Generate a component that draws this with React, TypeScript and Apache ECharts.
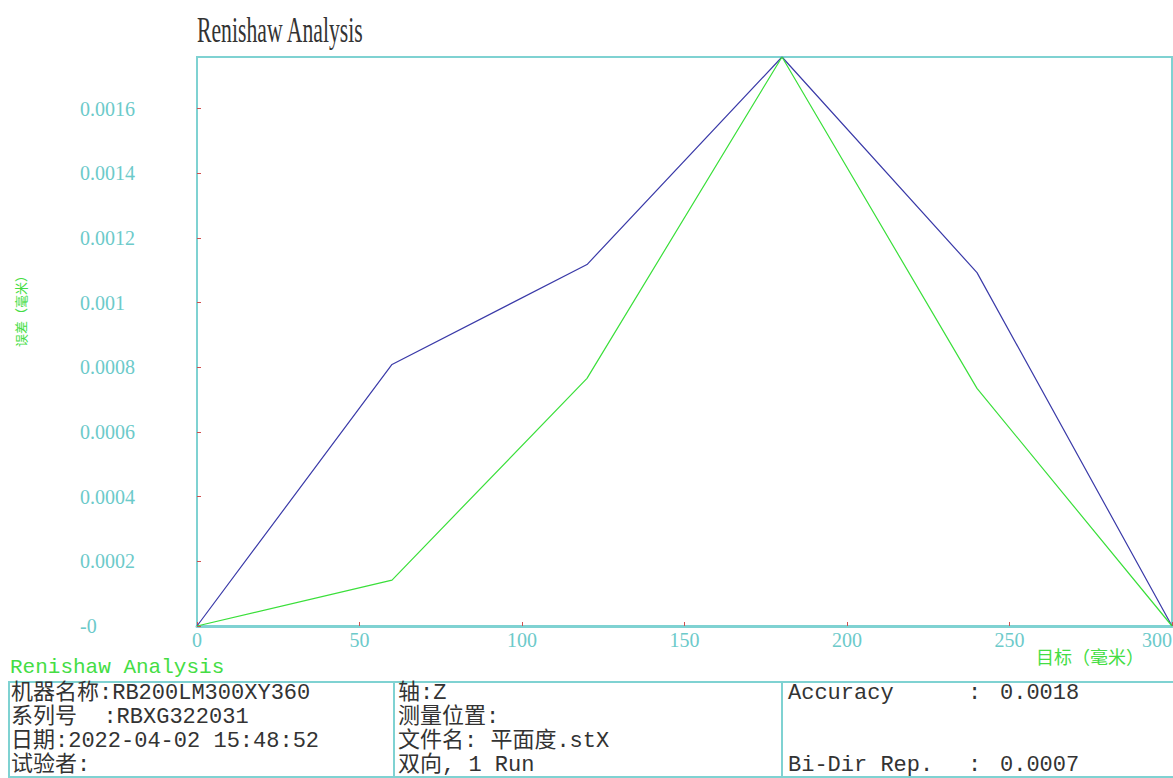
import React, { useEffect, useRef } from "react";
import * as echarts from "echarts";

const targets = [0, 60, 120, 180, 240, 300];
const runForward = [0, 0.000809, 0.001118, 0.00176, 0.001093, 0];
const runReverse = [0, 0.000142, 0.000766, 0.00176, 0.000735, 0];
const xTicks = [0, 50, 100, 150, 200, 250, 300];
const yTicks = [0, 0.0002, 0.0004, 0.0006, 0.0008, 0.001, 0.0012, 0.0014, 0.0016];

const infoCol1 = ["机器名称:RB200LM300XY360", "系列号  :RBXG322031", "日期:2022-04-02 15:48:52", "试验者:"];
const infoCol2 = ["轴:Z", "测量位置:", "文件名: 平面度.stX", "双向, 1 Run"];
const statLabels = ["Accuracy", "Bi-Dir Rep."];
const statValues = ["0.0018", "0.0007"];

const TEAL = "#7fd2d2";
const LABEL = "#6ccaca";
const MONO = "'Liberation Mono', 'Noto Sans CJK SC', monospace";

export default function App() {
  const ref = useRef<HTMLDivElement>(null);
  useEffect(() => {
    if (!ref.current) return;
    const chart = echarts.init(ref.current, null, { renderer: "svg" });
    const rowY = [693, 717, 741, 765];
    const graphics: any[] = [
      {
        type: "text",
        x: 197,
        y: 12,
        scaleX: 0.62,
        style: { text: "Renishaw Analysis", fontSize: 35, fontFamily: "'Liberation Serif', serif", fill: "#333" },
      },
      {
        type: "text",
        x: 1036,
        y: 656,
        style: { text: "目标（毫米）", fontSize: 18, fontFamily: "'Noto Sans CJK SC'", fill: "#44dd44", verticalAlign: "middle" },
      },
      {
        type: "text",
        x: 20,
        y: 308,
        rotation: Math.PI / 2,
        style: { text: "误差（毫米）", fontSize: 13, fontFamily: "'Noto Sans CJK SC'", fill: "#44dd44", align: "center", verticalAlign: "middle" },
      },
      {
        type: "text",
        x: 10,
        y: 667,
        style: { text: "Renishaw Analysis", fontSize: 21, fontFamily: MONO, fill: "#44dd44", verticalAlign: "middle" },
      },
      { type: "line", shape: { x1: 8, y1: 682, x2: 1173, y2: 682 }, style: { stroke: TEAL, lineWidth: 2 } },
      { type: "line", shape: { x1: 8, y1: 777, x2: 1173, y2: 777 }, style: { stroke: TEAL, lineWidth: 2 } },
      { type: "line", shape: { x1: 9, y1: 682, x2: 9, y2: 777 }, style: { stroke: TEAL, lineWidth: 2 } },
      { type: "line", shape: { x1: 394, y1: 682, x2: 394, y2: 777 }, style: { stroke: TEAL, lineWidth: 2 } },
      { type: "line", shape: { x1: 782, y1: 682, x2: 782, y2: 777 }, style: { stroke: TEAL, lineWidth: 2 } },
    ];
    infoCol1.forEach((t, i) =>
      graphics.push({ type: "text", x: 11, y: rowY[i], style: { text: t, fontSize: 22, fontFamily: MONO, fill: "#333", verticalAlign: "middle" } })
    );
    infoCol2.forEach((t, i) =>
      graphics.push({ type: "text", x: 398, y: rowY[i], style: { text: t, fontSize: 22, fontFamily: MONO, fill: "#333", verticalAlign: "middle" } })
    );
    statLabels.forEach((t, i) => {
      const y = i === 0 ? rowY[0] : rowY[3];
      graphics.push({ type: "text", x: 788, y, style: { text: t, fontSize: 22, fontFamily: MONO, fill: "#333", verticalAlign: "middle" } });
      graphics.push({ type: "text", x: 968, y, style: { text: ":", fontSize: 22, fontFamily: MONO, fill: "#333", verticalAlign: "middle" } });
      graphics.push({ type: "text", x: 1000, y, style: { text: statValues[i], fontSize: 22, fontFamily: MONO, fill: "#333", verticalAlign: "middle" } });
    });

    chart.setOption({
      animation: false,
      backgroundColor: "#fff",
      grid: {
        left: 197,
        top: 57,
        width: 975,
        height: 569,
        show: true,
        borderColor: TEAL,
        borderWidth: 2,
        containLabel: false,
        outerBoundsMode: "none",
      },
      xAxis: {
        type: "value",
        min: 0,
        max: 300,
        interval: 50,
        axisLine: { show: true, lineStyle: { color: TEAL, width: 3 } },
        axisTick: { show: true, inside: true, length: 4, lineStyle: { color: "#d05050" } },
        splitLine: { show: false },
        axisLabel: {
          color: LABEL,
          fontSize: 20,
          fontFamily: "'Liberation Serif', serif",
          margin: 4,
          alignMaxLabel: "right",
          formatter: (v: number) => (xTicks.includes(v) ? String(v) : ""),
        },
      },
      yAxis: {
        type: "value",
        min: 0,
        max: 0.00176,
        interval: 0.0002,
        axisLine: { show: true, lineStyle: { color: TEAL, width: 2 } },
        axisTick: { show: true, inside: true, length: 4, lineStyle: { color: "#d05050" } },
        splitLine: { show: false },
        axisLabel: {
          color: LABEL,
          fontSize: 20,
          fontFamily: "'Liberation Serif', serif",
          align: "left",
          margin: 117,
          showMaxLabel: false,
          formatter: (v: number) => {
            const t = yTicks.find((k) => Math.abs(k - v) < 1e-9);
            if (t === undefined) return "";
            return t === 0 ? "-0" : String(parseFloat(t.toFixed(4)));
          },
        },
      },
      series: [
        {
          type: "line",
          data: targets.map((x, i) => [x, runForward[i]]),
          symbol: "none",
          lineStyle: { color: "#3a3aa8", width: 1.2 },
        },
        {
          type: "line",
          data: targets.map((x, i) => [x, runReverse[i]]),
          symbol: "none",
          lineStyle: { color: "#3adf3a", width: 1.2 },
        },
      ],
      graphic: graphics,
    });
    return () => chart.dispose();
  }, []);
  return <div ref={ref} style={{ position: "absolute", left: 0, top: 0, width: 1173, height: 778 }} />;
}
